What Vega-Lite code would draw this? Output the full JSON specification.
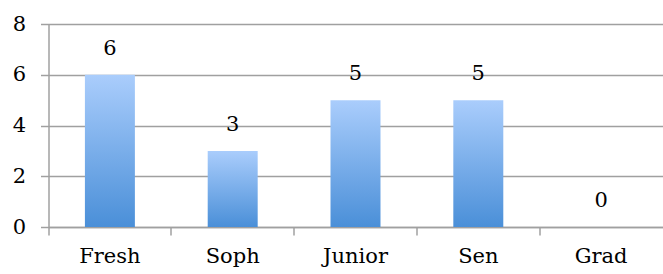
{
  "$schema": "https://vega.github.io/schema/vega-lite/v6.json",
  "width": 614,
  "height": 203,
  "autosize": {"type": "none"},
  "padding": {"left": 48.5, "top": 24, "right": 0.5, "bottom": 47},
  "background": "white",
  "config": {
    "view": {"stroke": null},
    "font": "DejaVu Serif",
    "axis": {
      "domain": true,
      "domainColor": "#a0a0a0",
      "tickColor": "#a0a0a0",
      "gridColor": "#a0a0a0",
      "labelColor": "#000000",
      "labelFont": "DejaVu Serif",
      "labelFontSize": 21,
      "tickSize": 8,
      "domainWidth": 1.5,
      "tickWidth": 1.5,
      "gridWidth": 1.3
    }
  },
  "data": {
    "values": [
      {"year": "Fresh", "count": 6},
      {"year": "Soph", "count": 3},
      {"year": "Junior", "count": 5},
      {"year": "Sen", "count": 5},
      {"year": "Grad", "count": 0}
    ]
  },
  "encoding": {
    "x": {
      "field": "year",
      "type": "nominal",
      "sort": null,
      "scale": {"paddingInner": 0, "paddingOuter": 0},
      "axis": {"title": null, "labelAngle": 0, "bandPosition": 0, "labelPadding": 10, "labelBaseline": "top", "labelBound": false, "labelOverlap": false}
    },
    "y": {
      "field": "count",
      "type": "quantitative",
      "scale": {"domain": [0, 8], "nice": false},
      "axis": {"title": null, "values": [0, 2, 4, 6, 8], "grid": true, "domain": true, "labelPadding": 15, "labelBaseline": "middle"}
    }
  },
  "layer": [
    {
      "mark": {
        "type": "bar",
        "width": {"band": 0.407},
        "color": {
          "gradient": "linear",
          "x1": 0, "y1": 0, "x2": 0, "y2": 1,
          "stops": [
            {"offset": 0, "color": "#aacdfc"},
            {"offset": 1, "color": "#4a8fd8"}
          ]
        }
      }
    },
    {
      "mark": {"type": "text", "baseline": "bottom", "dy": -16, "fontSize": 21, "font": "DejaVu Serif", "color": "#000000"},
      "encoding": {"text": {"field": "count", "type": "quantitative"}}
    }
  ]
}
